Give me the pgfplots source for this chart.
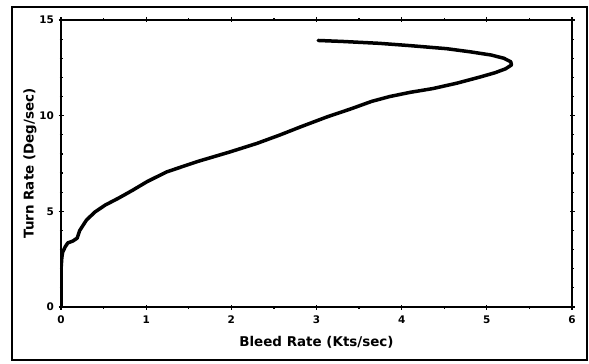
\documentclass[border=0pt]{standalone}
\usepackage{fontspec}
\setmainfont{DejaVu Sans}
\usepackage{pgfplots}
\pgfplotsset{compat=1.18}
\begin{document}
\begin{tikzpicture}[x=1bp,y=1bp]
\path[use as bounding box] (0,0) rectangle (589,363);
\draw[line width=1.3bp] (12,3) rectangle (587,356);
\begin{axis}[
  at={(61bp,56bp)}, anchor=south west,
  scale only axis, width=511bp, height=287bp,
  xmin=0, xmax=6, ymin=0, ymax=15,
  xtick={0,1,...,6}, ytick={0,5,10,15},
  minor xtick={0.5,1.5,...,5.5},
  minor ytick={1,2,3,4,6,7,8,9,11,12,13,14},
  tick align=center,
  major tick length=5bp, minor tick length=3bp,
  axis line style={line width=1.5bp},
  every tick/.style={line width=1.2bp, black},
  tick label style={font=\fontsize{10.5}{12}\selectfont\bfseries},
  /pgf/number format/assume math mode=true,
  xticklabel style={yshift=-3bp},
  yticklabel style={xshift=-1bp},
  xlabel={Bleed Rate (Kts/sec)},
  ylabel={Turn Rate (Deg/sec)},
  label style={font=\fontsize{13.5}{15}\selectfont\bfseries},
  xlabel style={yshift=-6bp},
  ylabel style={yshift=-4bp},
]
\addplot[black, line width=3.5bp, line join=round, line cap=round] coordinates {
(0,0) (0,1) (0,1.93) (0.01,2.6) (0.02,2.87) (0.05,3.15) (0.08,3.35)
(0.14,3.45) (0.19,3.6) (0.22,4.0) (0.3,4.55) (0.4,4.97) (0.52,5.33)
(0.68,5.7) (0.84,6.1) (1.01,6.55) (1.24,7.06) (1.6,7.6) (1.98,8.10)
(2.3,8.55) (2.57,8.99) (2.81,9.41) (3.12,9.93) (3.4,10.35) (3.65,10.75)
(3.86,11.0) (4.1,11.22) (4.37,11.42) (4.65,11.7) (4.92,12.02)
(5.1,12.25) (5.22,12.45) (5.29,12.65) (5.28,12.82) (5.2,13.0)
(5.05,13.17) (4.8,13.34) (4.53,13.5) (4.1,13.66) (3.74,13.78)
(3.3,13.88) (3.02,13.93)
};
\end{axis}
\end{tikzpicture}
\end{document}
